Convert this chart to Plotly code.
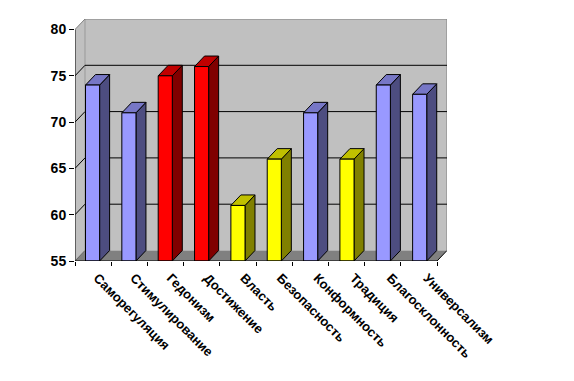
import plotly.graph_objects as go

categories = ["Саморегуляция", "Стимулирование", "Гедонизм", "Достижение", "Власть",
              "Безопасность", "Конформность", "Традиция", "Благосклонность", "Универсализм"]
values = [74, 71, 75, 76, 61, 66, 71, 66, 74, 73]
groups = ["blue", "blue", "red", "red", "yellow", "yellow", "blue", "yellow", "blue", "blue"]
y_ticks = [55, 60, 65, 70, 75, 80]

palette = {
    "blue": ("#9999FF", "#7777C6", "#4D4D80"),
    "red": ("#FF0000", "#C00000", "#800000"),
    "yellow": ("#FFFF00", "#C0C000", "#808000"),
}
WALL, FLOOR, EDGE = "#C0C0C0", "#808080", "#808080"
DX, DY = 0.276, 1.134     # oblique depth, axis units
BAR_OFF, BAR_W, BAR_STEP = 0.29, 0.39, 1.004
YMIN, YMAX = y_ticks[0], y_ticks[-1]
N = len(categories)

fig = go.Figure()


def poly(xs, ys, fill, line="black", width=1):
    fig.add_trace(go.Scatter(x=xs, y=ys, mode="lines", fill="toself", fillcolor=fill,
                             line=dict(color=line, width=width), hoverinfo="skip",
                             showlegend=False, cliponaxis=False))


def seg(xs, ys, color="black", width=1):
    fig.add_trace(go.Scatter(x=xs, y=ys, mode="lines", line=dict(color=color, width=width),
                             hoverinfo="skip", showlegend=False, cliponaxis=False))


# walls and floor
poly([DX, N + DX, N + DX, DX, DX], [YMIN + DY, YMIN + DY, YMAX + DY, YMAX + DY, YMIN + DY], WALL, WALL, 0)
poly([0, DX, DX, 0, 0], [YMIN, YMIN + DY, YMAX + DY, YMAX, YMIN], WALL, WALL, 0)
poly([0, N, N + DX, DX, 0], [YMIN, YMIN, YMIN + DY, YMIN + DY, YMIN], FLOOR, FLOOR, 0)
seg([0, DX, N + DX, N + DX], [YMAX, YMAX + DY, YMAX + DY, YMIN + DY], EDGE, 1)
seg([DX, DX], [YMIN + DY, YMAX + DY], EDGE, 0.6)

# gridlines
for t in y_ticks[1:-1]:
    seg([0, DX, N + DX], [t, t + DY, t + DY])
seg([0, DX], [YMIN, YMIN + DY], "#606060")
seg([N, N + DX], [YMIN, YMIN + DY], "black")

# bars
for i, (v, g) in enumerate(zip(values, groups)):
    front, top, side = palette[g]
    x0 = BAR_OFF + i * BAR_STEP
    x1 = x0 + BAR_W
    poly([x1, x1 + DX, x1 + DX, x1, x1], [YMIN, YMIN + DY, v + DY, v, YMIN], side)
    poly([x0, x1, x1 + DX, x0 + DX, x0], [v, v, v + DY, v + DY, v], top)
    poly([x0, x1, x1, x0, x0], [YMIN, YMIN, v, v, YMIN], front)

# axis lines
seg([0, 0], [YMIN, YMAX])
seg([0, N], [YMIN, YMIN])

font = dict(family="Liberation Sans", size=13, color="black", weight="bold")
fig.update_layout(
    width=574, height=381, autosize=False,
    margin=dict(l=75, r=126.5, t=18.5, b=120, pad=0),
    paper_bgcolor="white", plot_bgcolor="white", showlegend=False,
    xaxis=dict(range=[0, N + DX], tickmode="array", tickvals=[0.62 + i * 1.012 for i in range(N)],
               ticktext=categories, tickangle=45, ticks="", ticklen=0, showgrid=False,
               zeroline=False, showline=False, tickfont=font, ticklabelstandoff=6,
               minor=dict(tickmode="array", tickvals=list(range(N + 1)), ticks="outside",
                          ticklen=4, tickcolor="black", tickwidth=1, showgrid=False)),
    yaxis=dict(range=[YMIN, YMAX + DY], tickmode="array", tickvals=y_ticks, ticks="outside",
               ticklen=5, tickcolor="black", tickwidth=1, showgrid=False, zeroline=False,
               showline=False, tickfont=dict(family="Liberation Sans", size=14, color="black", weight="bold")),
)
fig.write_html("out.html", config=dict(displayModeBar=False),
               post_script="document.body.style.margin='0';document.documentElement.style.overflow='hidden';")
